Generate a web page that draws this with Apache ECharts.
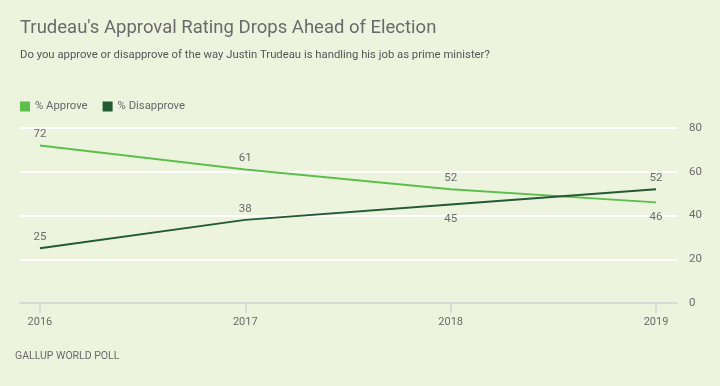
<!DOCTYPE html>
<html>
<head>
<meta charset="utf-8">
<style>
html,body{margin:0;padding:0;background:#edf4de;}
#c{width:720px;height:386px;}
</style>
<script src="https://cdn.jsdelivr.net/npm/echarts@6/dist/echarts.min.js"></script>
</head>
<body>
<div id="c"></div>
<script>
const years = [2016, 2017, 2018, 2019];
const approve = [72, 61, 52, 46];
const disapprove = [25, 38, 45, 52];
const approveLabelPos = ['top', 'top', 'top', 'bottom'];
const disapproveLabelPos = ['top', 'top', 'bottom', 'top'];
const yTicks = [0, 20, 40, 60, 80];

const chart = echarts.init(document.getElementById('c'), null, {renderer: 'canvas'});
const font = 'Roboto, "Noto Sans", sans-serif';
const textColor = '#6a6a6a';

function mk(vals, pos) {
  return vals.map((v, i) => ({
    value: [years[i], v],
    label: {position: pos[i], distance: pos[i] === 'top' ? 5 : 9}
  }));
}

chart.setOption({
  backgroundColor: '#edf4de',
  animation: false,
  title: [
    {text: "Trudeau's Approval Rating Drops Ahead of Election", left: 20, top: 19, padding: 0,
     textStyle: {fontFamily: font, fontSize: 18.5, fontWeight: 'normal', color: '#6a6a6a'}},
    {text: 'Do you approve or disapprove of the way Justin Trudeau is handling his job as prime minister?', left: 20, top: 50, padding: 0,
     textStyle: {fontFamily: font, fontSize: 11.3, fontWeight: 'normal', color: '#555555'}},
    {text: 'GALLUP WORLD POLL', left: 15, top: 351, padding: 0,
     textStyle: {fontFamily: font, fontSize: 10.5, fontWeight: 'normal', color: '#6a6a6a', letterSpacing: 0}}
  ],
  legend: {
    left: 15, top: 96, itemWidth: 10, itemHeight: 10, itemGap: 15,
    icon: 'rect',
    textStyle: {fontFamily: font, fontSize: 11.3, color: '#666666', padding: [0, 0, 0, 0]},
    data: ['% Approve', '% Disapprove']
  },
  grid: {left: 20, right: 43, top: 128, bottom: 83},
  xAxis: {
    type: 'value',
    min: 2015.903, max: 2019.102,
    axisLine: {show: true, lineStyle: {color: '#d9dcd4', width: 2}},
    axisTick: {show: true, customValues: years, length: 10, lineStyle: {color: '#d9dcd4', width: 2}},
    axisLabel: {customValues: years, formatter: v => String(v), margin: 14,
      fontFamily: font, fontSize: 11, color: textColor},
    splitLine: {show: false}
  },
  yAxis: {
    type: 'value', position: 'right', min: 0, max: 80, interval: 20,
    axisLine: {show: false}, axisTick: {show: false},
    axisLabel: {margin: 12, fontFamily: font, fontSize: 11.5, color: textColor,
      customValues: yTicks},
    splitLine: {lineStyle: {color: '#ffffff', width: 2}}
  },
  series: [
    {name: '% Approve', type: 'line', data: mk(approve, approveLabelPos),
     symbol: 'circle', symbolSize: 0.1, showSymbol: true,
     lineStyle: {color: '#5cbf4b', width: 2}, itemStyle: {color: '#5cbf4b'},
     label: {show: true, formatter: p => p.value[1], fontFamily: font, fontSize: 11.5, color: textColor}},
    {name: '% Disapprove', type: 'line', data: mk(disapprove, disapproveLabelPos),
     symbol: 'circle', symbolSize: 0.1, showSymbol: true,
     lineStyle: {color: '#215a33', width: 2}, itemStyle: {color: '#215a33'},
     label: {show: true, formatter: p => p.value[1], fontFamily: font, fontSize: 11.5, color: textColor}}
  ]
});
</script>
</body>
</html>
